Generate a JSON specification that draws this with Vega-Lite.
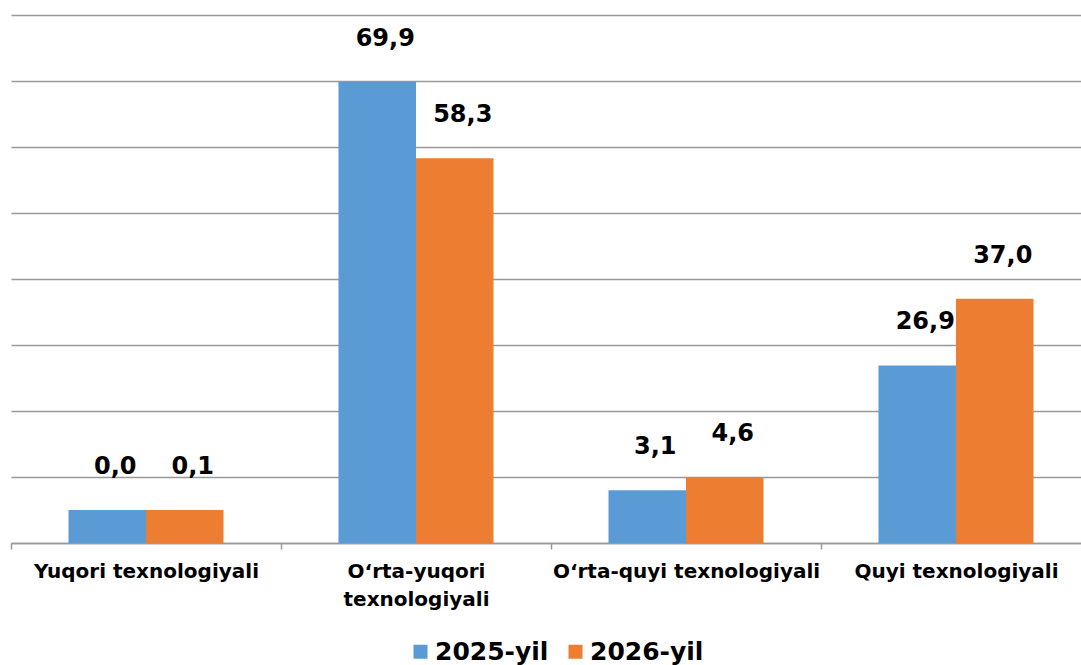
{
  "$schema": "https://vega.github.io/schema/vega-lite/v6.json",
  "width": 1070,
  "height": 528,
  "autosize": {"type": "none"},
  "padding": {"left": 11, "top": 15, "right": 0, "bottom": 122},
  "background": "white",
  "data": {
    "values": [
      {"category": "Yuqori texnologiyali", "year": "2025-yil", "bar": 5, "label": "0,0"},
      {"category": "Yuqori texnologiyali", "year": "2026-yil", "bar": 5, "label": "0,1"},
      {"category": "O‘rta-yuqori texnologiyali", "year": "2025-yil", "bar": 69.9, "label": "69,9"},
      {"category": "O‘rta-yuqori texnologiyali", "year": "2026-yil", "bar": 58.3, "label": "58,3"},
      {"category": "O‘rta-quyi texnologiyali", "year": "2025-yil", "bar": 8, "label": "3,1"},
      {"category": "O‘rta-quyi texnologiyali", "year": "2026-yil", "bar": 10, "label": "4,6"},
      {"category": "Quyi texnologiyali", "year": "2025-yil", "bar": 26.9, "label": "26,9"},
      {"category": "Quyi texnologiyali", "year": "2026-yil", "bar": 37.0, "label": "37,0"}
    ]
  },
  "encoding": {
    "x": {
      "field": "category",
      "type": "nominal",
      "sort": null,
      "scale": {"range": [0, 1080], "paddingInner": 0, "paddingOuter": 0},
      "axis": {
        "title": null,
        "grid": false,
        "tickBand": "extent",
        "tickSize": 6,
        "tickColor": "#999999",
        "tickWidth": 1.5,
        "domainColor": "#999999",
        "domainWidth": 1.5,
        "labelAngle": 0,
        "labelFont": "DejaVu Sans",
        "labelFontWeight": "bold",
        "labelFontSize": 20,
        "labelColor": "#000000",
        "labelPadding": 12,
        "labelLimit": 400,
        "labelOverlap": false,
        "labelLineHeight": 28,
        "labelExpr": "datum.value == 'O‘rta-yuqori texnologiyali' ? ['O‘rta-yuqori', 'texnologiyali'] : datum.label"
      }
    },
    "xOffset": {
      "field": "year",
      "type": "nominal",
      "scale": {"paddingInner": 0, "paddingOuter": 0.742}
    },
    "y": {
      "field": "bar",
      "type": "quantitative",
      "scale": {"domain": [0, 80], "nice": false, "zero": true},
      "axis": {
        "title": null,
        "values": [0, 10, 20, 30, 40, 50, 60, 70, 80],
        "grid": true,
        "gridColor": "#999999",
        "gridWidth": 1.5,
        "labels": false,
        "ticks": false,
        "domain": false
      }
    }
  },
  "layer": [
    {
      "mark": {"type": "bar"},
      "encoding": {
        "color": {
          "field": "year",
          "type": "nominal",
          "scale": {"domain": ["2025-yil", "2026-yil"], "range": ["#5B9BD5", "#ED7D31"]},
          "legend": {
            "title": null,
            "orient": "none",
            "direction": "horizontal",
            "legendX": 397,
            "legendY": 624,
            "symbolType": "square",
            "symbolSize": 196,
            "symbolStrokeWidth": 0,
            "labelFont": "DejaVu Sans",
            "labelFontWeight": "bold",
            "labelFontSize": 25,
            "labelColor": "#000000",
            "labelOffset": 2,
            "columnPadding": 14
          }
        }
      }
    },
    {
      "mark": {
        "type": "text",
        "dy": -36,
        "dx": 8,
        "baseline": "alphabetic",
        "align": "center",
        "font": "DejaVu Sans",
        "fontWeight": "bold",
        "fontSize": 24,
        "color": "#000000"
      },
      "encoding": {"text": {"field": "label"}}
    }
  ],
  "config": {"view": {"stroke": null}}
}
